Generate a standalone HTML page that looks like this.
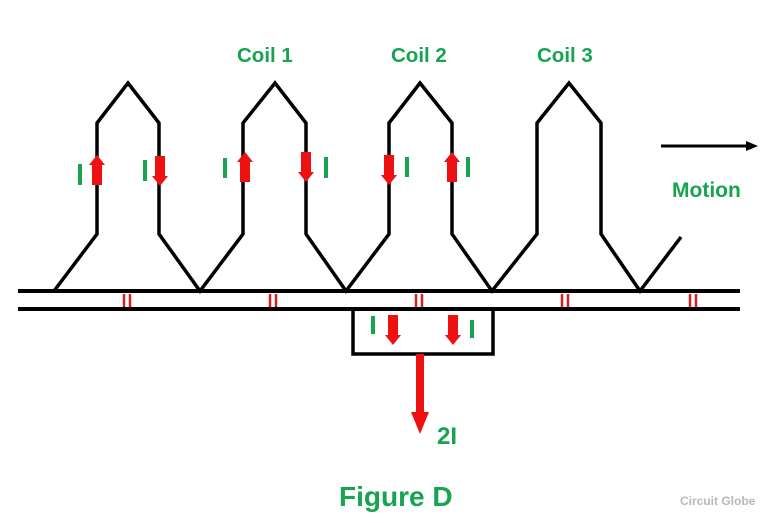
<!DOCTYPE html>
<html><head><meta charset="utf-8"><style>
html,body{margin:0;padding:0;background:#fff;}
svg{display:block;}
text{font-family:"Liberation Sans",sans-serif;font-weight:bold;}
</style></head><body>
<svg width="778" height="523" viewBox="0 0 778 523" xmlns="http://www.w3.org/2000/svg">
<defs>
<path id="up" d="M0,0 L8,10 L5,10 L5,30 L-5,30 L-5,10 L-8,10 Z" fill="#ee1111"/>
<path id="dn" d="M0,30 L8,20 L5,20 L5,0 L-5,0 L-5,20 L-8,20 Z" fill="#ee1111"/>
</defs>
<g fill="none" stroke="#000" stroke-width="3.5" stroke-linejoin="miter">
<polyline points="54,291 97,234 97,123 128,83 159,123 159,234 200,291 243,234 243,123 275,83 306,123 306,234 346,291 389,234 389,123 420,83 452,123 452,234 492,291 537,234 537,123 569,83 601,123 601,234 640,291 681,237"/>
<line x1="18" y1="291" x2="740" y2="291" stroke-width="4"/>
<line x1="18" y1="309" x2="740" y2="309" stroke-width="4"/>
<rect x="353" y="309" width="140" height="45" stroke-width="3.5"/>
<line x1="661" y1="146" x2="748" y2="146" stroke-width="3"/>
</g>
<path d="M746,141 L758,146 L746,151 Z" fill="#000"/>
<g stroke="#d42020" stroke-width="2.5">
<line x1="124" y1="294" x2="124" y2="307"/><line x1="130" y1="294" x2="130" y2="307"/>
<line x1="270" y1="294" x2="270" y2="307"/><line x1="276" y1="294" x2="276" y2="307"/>
<line x1="416" y1="294" x2="416" y2="307"/><line x1="422" y1="294" x2="422" y2="307"/>
<line x1="562" y1="294" x2="562" y2="307"/><line x1="568" y1="294" x2="568" y2="307"/>
<line x1="690" y1="294" x2="690" y2="307"/><line x1="696" y1="294" x2="696" y2="307"/>
</g>
<use href="#up" x="97" y="155"/>
<use href="#dn" x="160" y="156"/>
<use href="#up" x="245" y="152"/>
<use href="#dn" x="306" y="152"/>
<use href="#dn" x="389" y="155"/>
<use href="#up" x="452" y="152"/>
<use href="#dn" x="393" y="315"/>
<use href="#dn" x="453" y="315"/>
<rect x="416" y="354" width="8" height="60" fill="#ee1111"/>
<path d="M411,412 L429,412 L420,434 Z" fill="#ee1111"/>
<g fill="#17a34f">
<rect x="78" y="164" width="4" height="21"/>
<rect x="143" y="160" width="4" height="21"/>
<rect x="223" y="158" width="4" height="20"/>
<rect x="324" y="157" width="4" height="21"/>
<rect x="405" y="157" width="4" height="20"/>
<rect x="466" y="157" width="4" height="20"/>
<rect x="371" y="316" width="4" height="18"/>
<rect x="470" y="320" width="4" height="18"/>
</g>
<g fill="#17a34f">
<text x="237" y="62" font-size="20.5">Coil 1</text>
<text x="391" y="62" font-size="20.5">Coil 2</text>
<text x="537" y="62" font-size="20.5">Coil 3</text>
<text x="672" y="197" font-size="21">Motion</text>
<text x="437" y="444" font-size="24">2I</text>
<text x="339" y="506" font-size="28">Figure D</text>
</g>
<text x="680" y="505" font-size="12" fill="#b8b8b8">Circuit Globe</text>
</svg>
</body></html>
